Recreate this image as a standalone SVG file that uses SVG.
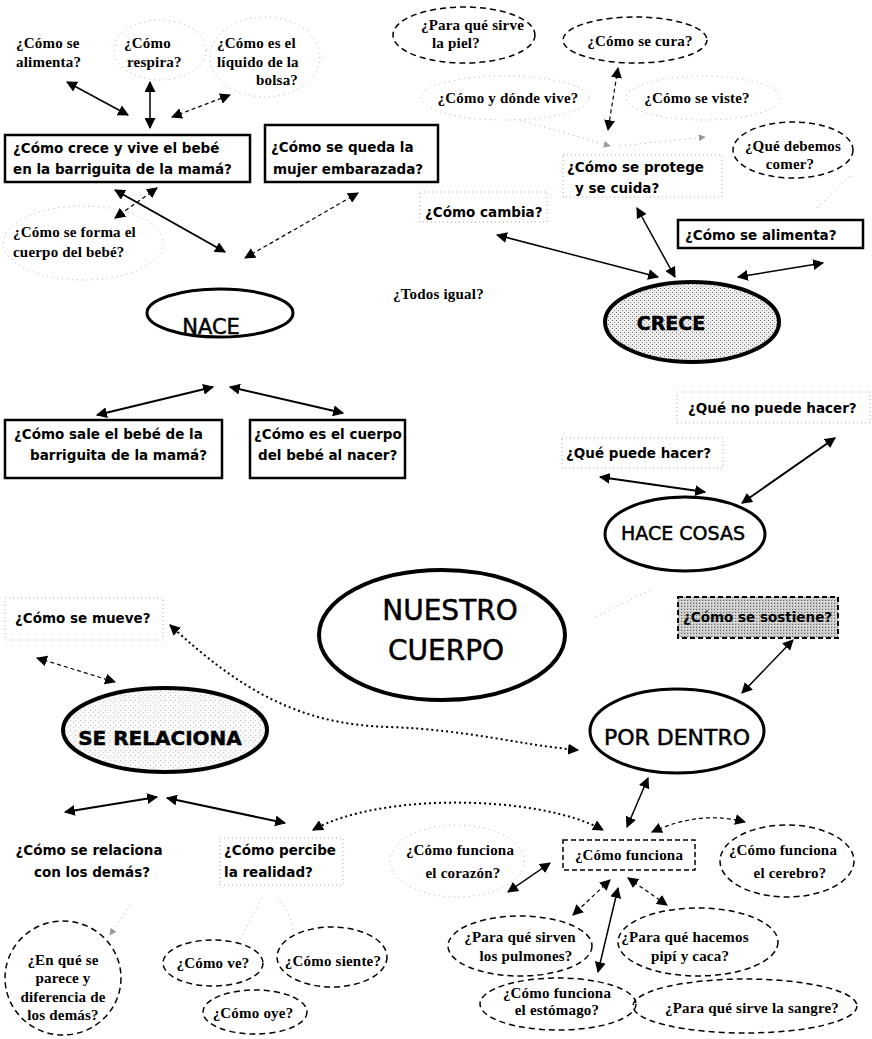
<svg xmlns="http://www.w3.org/2000/svg" width="872" height="1039" viewBox="0 0 872 1039">
<style>
.sb{font-family:"DejaVu Sans","Liberation Sans",sans-serif;font-weight:bold;font-size:13.5px;fill:#000}
.sf{font-family:"Liberation Serif",serif;font-weight:bold;font-size:15px;letter-spacing:0.2px;fill:#000}
.m{text-anchor:middle}
.box{fill:#fff;stroke:#000;stroke-width:2.5}
.fbox{fill:none;stroke:#aaa;stroke-width:1;stroke-dasharray:1 3}
.fell{fill:none;stroke:#aaa;stroke-width:1;stroke-dasharray:1 4}
.dell{fill:none;stroke:#000;stroke-width:1.5;stroke-dasharray:6 4}
.big{stroke:#000;stroke-width:4}
.big3{fill:#fff;stroke:#000;stroke-width:3}
.ln{fill:none;stroke:#000;stroke-width:1.5}
.lnt{fill:none;stroke:#000;stroke-width:2}
.lnd{fill:none;stroke:#000;stroke-width:1.2;stroke-dasharray:4 3}
.lndot{fill:none;stroke:#000;stroke-width:2;stroke-dasharray:2 3}
.lnf{fill:none;stroke:#aaa;stroke-width:1;stroke-dasharray:1 4}
.ttl{font-family:"DejaVu Sans","Liberation Sans",sans-serif;fill:#000;stroke:#000;stroke-width:0.5}
</style>
<defs>
<marker id="ah" viewBox="0 0 10 10" refX="9" refY="5" markerWidth="11" markerHeight="11" markerUnits="userSpaceOnUse" orient="auto-start-reverse"><path d="M0,0 L10,5 L0,10 z" fill="#000"/></marker>
<marker id="as" viewBox="0 0 10 10" refX="9" refY="5" markerWidth="7" markerHeight="7" markerUnits="userSpaceOnUse" orient="auto-start-reverse"><path d="M0,0 L10,5 L0,10 z" fill="#999"/></marker>
<pattern id="stip" width="4" height="4" patternUnits="userSpaceOnUse"><rect width="4" height="4" fill="#ececec"/><rect x="0" y="0" width="1" height="1" fill="#777"/><rect x="2" y="2" width="1" height="1" fill="#999"/></pattern>
<pattern id="stip2" width="5" height="5" patternUnits="userSpaceOnUse"><rect width="5" height="5" fill="#fafafa"/><rect x="0" y="0" width="1" height="1" fill="#bbb"/><rect x="3" y="2" width="1" height="1" fill="#ccc"/></pattern>
<pattern id="stip3" width="3" height="3" patternUnits="userSpaceOnUse"><rect width="3" height="3" fill="#c8c8c8"/><rect x="0" y="0" width="1" height="1" fill="#666"/><rect x="2" y="1" width="1" height="1" fill="#eee"/></pattern>
</defs>
<rect width="872" height="1039" fill="#fff"/>

<g id="connectors">
<line class="ln" x1="128" y1="115" x2="67" y2="82" marker-start="url(#ah)" marker-end="url(#ah)"/>
<line class="ln" x1="150" y1="128" x2="150" y2="82" marker-start="url(#ah)" marker-end="url(#ah)"/>
<line class="lnd" x1="172" y1="117" x2="230" y2="95" marker-start="url(#ah)" marker-end="url(#ah)"/>
<line class="lnt" x1="115" y1="190" x2="225" y2="252" marker-start="url(#ah)" marker-end="url(#ah)"/>
<line class="lnd" x1="157" y1="188" x2="115" y2="218" marker-start="url(#ah)" marker-end="url(#ah)"/>
<line class="lnd" x1="358" y1="193" x2="245" y2="258" marker-start="url(#ah)" marker-end="url(#ah)"/>
<line class="lnt" x1="213" y1="387" x2="97" y2="415" marker-start="url(#ah)" marker-end="url(#ah)"/>
<line class="lnt" x1="230" y1="387" x2="343" y2="413" marker-start="url(#ah)" marker-end="url(#ah)"/>
<line class="lnd" x1="618" y1="68" x2="608" y2="130" marker-start="url(#ah)" marker-end="url(#ah)"/>
<line class="lnf" x1="520" y1="120" x2="610" y2="146" marker-end="url(#as)"/>
<line class="lnf" x1="620" y1="146" x2="705" y2="137" marker-end="url(#as)"/>
<line class="lnf" x1="850" y1="176" x2="815" y2="210"/>
<line class="ln" x1="497" y1="235" x2="658" y2="277" marker-start="url(#ah)" marker-end="url(#ah)"/>
<line class="ln" x1="637" y1="208" x2="675" y2="277" marker-start="url(#ah)" marker-end="url(#ah)"/>
<line class="ln" x1="823" y1="263" x2="738" y2="277" marker-start="url(#ah)" marker-end="url(#ah)"/>
<line class="lnt" x1="600" y1="477" x2="705" y2="492" marker-start="url(#ah)" marker-end="url(#ah)"/>
<line class="lnt" x1="835" y1="438" x2="742" y2="503" marker-start="url(#ah)" marker-end="url(#ah)"/>
<line class="lnf" x1="650" y1="590" x2="593" y2="618"/>
<line class="ln" x1="793" y1="640" x2="742" y2="693" stroke="#555" marker-start="url(#ah)" marker-end="url(#ah)"/>
<line class="lnd" x1="37" y1="658" x2="115" y2="682" marker-start="url(#ah)" marker-end="url(#ah)"/>
<path class="lndot" d="M170,625 C240,690 300,725 390,727 C470,730 520,745 578,750" marker-start="url(#ah)" marker-end="url(#ah)"/>
<line class="lnt" x1="157" y1="797" x2="65" y2="812" marker-start="url(#ah)" marker-end="url(#ah)"/>
<line class="lnt" x1="167" y1="798" x2="285" y2="823" marker-start="url(#ah)" marker-end="url(#ah)"/>
<path class="lndot" d="M313,830 C380,792 540,795 603,830" marker-start="url(#ah)" marker-end="url(#ah)"/>
<line class="ln" x1="648" y1="778" x2="627" y2="827" marker-start="url(#ah)" marker-end="url(#ah)"/>
<line class="ln" x1="550" y1="863" x2="508" y2="892" marker-start="url(#ah)" marker-end="url(#ah)"/>
<path class="lnd" d="M652,832 Q700,810 745,822" marker-start="url(#ah)" marker-end="url(#ah)"/>
<line class="lnd" x1="610" y1="880" x2="573" y2="915" marker-start="url(#ah)" marker-end="url(#ah)"/>
<line class="ln" x1="618" y1="888" x2="598" y2="972" stroke-width="1" marker-start="url(#ah)" marker-end="url(#ah)"/>
<line class="lnd" x1="628" y1="878" x2="667" y2="905" marker-start="url(#ah)" marker-end="url(#ah)"/>
<line class="lnf" x1="130" y1="905" x2="110" y2="935" marker-end="url(#as)"/>
<path class="lnf" d="M262,898 Q250,920 240,940"/>
<path class="lnf" d="M277,898 Q290,912 293,930"/>
</g>

<g id="n-alimenta1"><text class="sf" x="16" y="48">¿Cómo se</text><text class="sf" x="16" y="67">alimenta?</text></g>
<g id="n-respira"><ellipse class="fell" cx="160" cy="50" rx="46" ry="30"/><text class="sf" x="124" y="48">¿Cómo</text><text class="sf" x="127" y="67">respira?</text></g>
<g id="n-liquido"><ellipse class="fell" cx="265" cy="57" rx="55" ry="40"/><text class="sf" x="217" y="48">¿Cómo es el</text><text class="sf" x="217" y="67">líquido de la</text><text class="sf" x="256" y="85">bolsa?</text></g>
<g id="n-crece-vive"><rect class="box" x="5" y="135" width="245" height="47"/><text class="sb" x="13" y="153">¿Cómo crece y vive el bebé</text><text class="sb" x="13" y="174">en la barriguita de la mamá?</text></g>
<g id="n-embarazada"><rect class="box" x="265" y="125" width="173" height="57"/><text class="sb" x="271" y="152">¿Cómo se queda la</text><text class="sb" x="273" y="174">mujer embarazada?</text></g>
<g id="n-forma"><ellipse class="fell" cx="83" cy="243" rx="80" ry="37"/><text class="sf" x="13" y="237">¿Cómo se forma el</text><text class="sf" x="13" y="257">cuerpo del bebé?</text></g>
<g id="n-nace"><ellipse class="big3" cx="220" cy="313" rx="73" ry="24"/><text class="ttl m" x="211" y="334" font-size="21">NACE</text></g>
<g id="n-sale"><rect class="box" x="5" y="420" width="217" height="58"/><text class="sb" x="14" y="439">¿Cómo sale el bebé de la</text><text class="sb" x="30" y="460">barriguita de la mamá?</text></g>
<g id="n-nacer"><rect class="box" x="250" y="420" width="155" height="58"/><text class="sb" x="254" y="439">¿Cómo es el cuerpo</text><text class="sb" x="258" y="460">del bebé al nacer?</text></g>
<g id="n-todos"><text class="sf" x="393" y="299">¿Todos igual?</text></g>

<g id="n-piel"><ellipse class="dell" cx="464" cy="35" rx="71" ry="28"/><text class="sf" x="421" y="30">¿Para qué sirve</text><text class="sf" x="432" y="48">la piel?</text></g>
<g id="n-cura"><ellipse class="dell" cx="635" cy="40" rx="72" ry="23"/><text class="sf m" x="640" y="46">¿Cómo se cura?</text></g>
<g id="n-vive"><ellipse class="fell" cx="505" cy="98" rx="84" ry="22"/><text class="sf m" x="508" y="103">¿Cómo y dónde vive?</text></g>
<g id="n-viste"><ellipse class="fell" cx="703" cy="98" rx="77" ry="22"/><text class="sf m" x="697" y="103">¿Cómo se viste?</text></g>
<g id="n-comer"><ellipse class="dell" cx="793" cy="150" rx="60" ry="28"/><text class="sf m" x="793" y="151">¿Qué debemos</text><text class="sf m" x="790" y="169">comer?</text></g>
<g id="n-protege"><rect class="fbox" x="563" y="155" width="159" height="42"/><text class="sb" x="567" y="172">¿Cómo se protege</text><text class="sb" x="575" y="193">y se cuida?</text></g>
<g id="n-cambia"><rect class="fbox" x="420" y="192" width="127" height="30"/><text class="sb" x="425" y="217">¿Cómo cambia?</text></g>
<g id="n-alimenta2"><rect class="box" x="678" y="220" width="185" height="28" stroke-width="2"/><text class="sb" x="685" y="240">¿Cómo se alimenta?</text></g>
<g id="n-crece"><ellipse class="big" fill="url(#stip)" cx="692" cy="322" rx="87" ry="40"/><text class="ttl m" x="671" y="330" font-size="19" font-weight="bold">CRECE</text></g>

<g id="n-nopuede"><rect class="fbox" x="677" y="392" width="193" height="31"/><text class="sb" x="688" y="413">¿Qué no puede hacer?</text></g>
<g id="n-puede"><rect class="fbox" x="562" y="438" width="161" height="30"/><text class="sb" x="566" y="458">¿Qué puede hacer?</text></g>
<g id="n-hace"><ellipse class="big3" cx="685" cy="534" rx="80" ry="37"/><text class="ttl m" x="683" y="540" font-size="19">HACE COSAS</text></g>

<g id="n-nuestro"><ellipse class="big" fill="#fff" cx="442" cy="635" rx="123" ry="65"/><text class="ttl m" x="450" y="620" font-size="28">NUESTRO</text><text class="ttl m" x="446" y="660" font-size="28">CUERPO</text></g>
<g id="n-sostiene"><rect x="678" y="597" width="160" height="41" fill="url(#stip3)" stroke="#000" stroke-width="2" stroke-dasharray="5 3"/><text class="sb" x="683" y="622">¿Cómo se sostiene?</text></g>
<g id="n-mueve"><rect class="fbox" x="5" y="598" width="158" height="42"/><text class="sb" x="15" y="623">¿Cómo se mueve?</text></g>
<g id="n-relaciona"><ellipse class="big" fill="url(#stip2)" cx="165" cy="730" rx="102" ry="42"/><text class="ttl m" x="160" y="745" font-size="20" font-weight="bold" stroke-width="0.3">SE RELACIONA</text></g>
<g id="n-dentro"><ellipse class="big3" cx="677" cy="731" rx="87" ry="42"/><text class="ttl m" x="677" y="745" font-size="22">POR DENTRO</text></g>

<g id="n-rel-demas"><text class="sb m" x="89" y="855">¿Cómo se relaciona</text><text class="sb m" x="92" y="877">con los demás?</text></g>
<g id="n-percibe"><rect class="fbox" x="220" y="838" width="123" height="47"/><text class="sb" x="224" y="855">¿Cómo percibe</text><text class="sb" x="224" y="877">la realidad?</text></g>
<g id="n-funciona"><rect x="563" y="840" width="132" height="30" fill="none" stroke="#000" stroke-width="1.5" stroke-dasharray="5 3"/><text class="sf m" x="629" y="860">¿Cómo funciona</text></g>
<g id="n-corazon"><ellipse class="fell" cx="457" cy="861" rx="67" ry="36"/><text class="sf m" x="460" y="855">¿Cómo funciona</text><text class="sf m" x="463" y="878">el corazón?</text></g>
<g id="n-cerebro"><ellipse class="dell" cx="787" cy="861" rx="67" ry="36"/><text class="sf m" x="783" y="855">¿Cómo funciona</text><text class="sf m" x="790" y="878">el cerebro?</text></g>
<g id="n-pulmones"><ellipse class="dell" cx="520" cy="946" rx="72" ry="30"/><text class="sf m" x="520" y="942">¿Para qué sirven</text><text class="sf m" x="526" y="961">los pulmones?</text></g>
<g id="n-pipi"><ellipse class="dell" cx="698" cy="942" rx="80" ry="34"/><text class="sf m" x="685" y="942">¿Para qué hacemos</text><text class="sf m" x="690" y="961">pipí y caca?</text></g>
<g id="n-estomago"><ellipse class="dell" cx="558" cy="1004" rx="78" ry="26"/><text class="sf m" x="557" y="998">¿Cómo funciona</text><text class="sf m" x="557" y="1015">el estómago?</text></g>
<g id="n-sangre"><ellipse class="dell" cx="745" cy="1006" rx="112" ry="27"/><text class="sf m" x="752" y="1013">¿Para qué sirve la sangre?</text></g>
<g id="n-enque"><ellipse class="dell" cx="63" cy="978" rx="58" ry="57"/><text class="sf m" x="63" y="965">¿En qué se</text><text class="sf m" x="63" y="983">parece y</text><text class="sf m" x="63" y="1002">diferencia de</text><text class="sf m" x="63" y="1020">los demás?</text></g>
<g id="n-ve"><ellipse class="dell" cx="213" cy="963" rx="50" ry="23"/><text class="sf m" x="213" y="968">¿Cómo ve?</text></g>
<g id="n-siente"><ellipse class="dell" cx="332" cy="957" rx="55" ry="30"/><text class="sf m" x="333" y="966">¿Cómo siente?</text></g>
<g id="n-oye"><ellipse class="dell" cx="255" cy="1012" rx="52" ry="22"/><text class="sf m" x="253" y="1018">¿Cómo oye?</text></g>
</svg>
